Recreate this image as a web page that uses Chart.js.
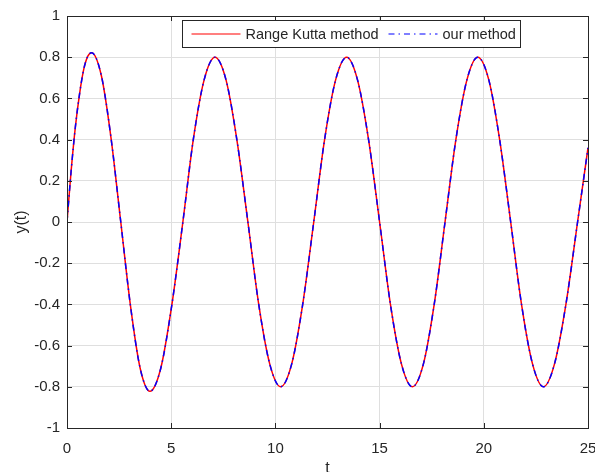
<!DOCTYPE html>
<html>
<head>
<meta charset="utf-8">
<script src="https://cdn.jsdelivr.net/npm/chart.js@4.4.1/dist/chart.umd.min.js"></script>
<style>
  html, body { margin: 0; padding: 0; background: #fff; }
  canvas { display: block; }
</style>
</head>
<body>
<canvas id="solutionChart" width="595" height="472"></canvas>
<script>
// values
const tValues = [0, 0.2, 0.4, 0.6, 0.8, 1.0, 1.18, 1.65, 2.11, 2.58, 3.05, 3.51, 3.98,
  4.50, 5.02, 5.56, 6.06, 6.58, 7.10, 7.63, 8.15, 8.68, 9.20, 9.73, 10.25,
  10.78, 11.31, 11.84, 12.36, 12.89, 13.42, 13.94, 14.47, 15.00, 15.52, 16.05, 16.57,
  17.10, 17.62, 18.14, 18.66, 19.19, 19.71, 20.24, 20.76, 21.29, 21.81, 22.34, 22.86,
  23.39, 23.94, 24.50, 25.00];

const rungeKutta = [0, 0.25, 0.46, 0.62, 0.74, 0.805, 0.822, 0.71, 0.41, 0, -0.41, -0.71, -0.822,
  -0.71, -0.41, 0, 0.40, 0.69, 0.80, 0.69, 0.40, 0, -0.40, -0.69, -0.80,
  -0.69, -0.40, 0, 0.40, 0.69, 0.80, 0.69, 0.40, 0, -0.40, -0.69, -0.80,
  -0.69, -0.40, 0, 0.40, 0.69, 0.80, 0.69, 0.40, 0, -0.40, -0.69, -0.80,
  -0.69, -0.40, 0, 0.36];

const ourMethod = [0, 0.25, 0.46, 0.62, 0.74, 0.805, 0.822, 0.71, 0.41, 0, -0.41, -0.71, -0.822,
  -0.71, -0.41, 0, 0.40, 0.69, 0.80, 0.69, 0.40, 0, -0.40, -0.69, -0.80,
  -0.69, -0.40, 0, 0.40, 0.69, 0.80, 0.69, 0.40, 0, -0.40, -0.69, -0.80,
  -0.69, -0.40, 0, 0.40, 0.69, 0.80, 0.69, 0.40, 0, -0.40, -0.69, -0.80,
  -0.69, -0.40, 0, 0.36];

const seriesNames = ['Range Kutta method', 'our method'];
const xTicks = [0, 5, 10, 15, 20, 25];
const yTicks = [-1, -0.8, -0.6, -0.4, -0.2, 0, 0.2, 0.4, 0.6, 0.8, 1];

const FONT = "'Liberation Sans', Arial, Helvetica, sans-serif";
const AXIS_COLOR = '#262626';
const GRID_COLOR = '#dfdfdf';
const BLUE_DASH = [6, 4, 1.5, 4];

const toPoints = (ys) => ys.map((y, i) => ({ x: tValues[i], y: y }));

// box round the axes, inward tick marks and the legend inside the plot
const matlabAxes = {
  id: 'matlabAxes',
  afterDraw(chart) {
    const { ctx, chartArea: a, scales } = chart;
    const tickLen = 5;
    ctx.save();
    ctx.strokeStyle = AXIS_COLOR;
    ctx.lineWidth = 1;
    ctx.beginPath();
    xTicks.forEach(v => {
      const px = Math.round(scales.x.getPixelForValue(v)) + 0.5;
      ctx.moveTo(px, a.bottom); ctx.lineTo(px, a.bottom - tickLen);
      ctx.moveTo(px, a.top); ctx.lineTo(px, a.top + tickLen);
    });
    yTicks.forEach(v => {
      const py = Math.round(scales.y.getPixelForValue(v)) + 0.5;
      ctx.moveTo(a.left, py); ctx.lineTo(a.left + tickLen, py);
      ctx.moveTo(a.right, py); ctx.lineTo(a.right - tickLen, py);
    });
    ctx.stroke();
    ctx.strokeRect(Math.round(a.left) + 0.5, Math.round(a.top) + 0.5,
      Math.round(a.right - a.left), Math.round(a.bottom - a.top));

    // legend
    ctx.font = '14.5px ' + FONT;
    const w1 = ctx.measureText(seriesNames[0]).width;
    const w2 = ctx.measureText(seriesNames[1]).width;
    const sample = 49;
    const boxL = Math.round(a.left + 115) + 0.5;
    const boxT = Math.round(a.top + 4) + 0.5;
    const boxW = Math.round(9 + sample + 5 + w1 + 10 + sample + 5 + w2 + 5);
    const boxH = 27;
    const midY = boxT + boxH / 2;
    ctx.fillStyle = '#fff';
    ctx.fillRect(boxL, boxT, boxW, boxH);
    ctx.strokeStyle = AXIS_COLOR;
    ctx.strokeRect(boxL, boxT, boxW, boxH);

    let x = boxL + 9;
    ctx.lineWidth = 1.2;
    ctx.strokeStyle = '#ff0000';
    ctx.beginPath(); ctx.moveTo(x, midY); ctx.lineTo(x + sample, midY); ctx.stroke();
    x += sample + 5;
    ctx.fillStyle = AXIS_COLOR;
    ctx.textBaseline = 'middle';
    ctx.fillText(seriesNames[0], x, midY + 0.5);
    x += w1 + 10;
    ctx.strokeStyle = '#0000ff';
    ctx.setLineDash(BLUE_DASH);
    ctx.beginPath(); ctx.moveTo(x, midY); ctx.lineTo(x + sample, midY); ctx.stroke();
    ctx.setLineDash([]);
    x += sample + 5;
    ctx.fillText(seriesNames[1], x, midY + 0.5);
    ctx.restore();
  }
};

new Chart(document.getElementById('solutionChart'), {
  type: 'line',
  data: {
    datasets: [
      {
        label: seriesNames[0],
        data: toPoints(rungeKutta),
        borderColor: '#ff0000',
        borderWidth: 1.5,
        pointRadius: 0,
        cubicInterpolationMode: 'monotone',
        order: 1
      },
      {
        label: seriesNames[1],
        data: toPoints(ourMethod),
        borderColor: '#0000ff',
        borderWidth: 1.5,
        borderDash: BLUE_DASH,
        pointRadius: 0,
        cubicInterpolationMode: 'monotone',
        order: 0
      }
    ]
  },
  options: {
    responsive: false,
    animation: false,
    devicePixelRatio: 1,
    layout: { padding: { top: 16, right: 7, left: 0, bottom: 0 } },
    plugins: {
      legend: { display: false },
      tooltip: { enabled: false }
    },
    scales: {
      x: {
        type: 'linear',
        min: 0,
        max: 25,
        afterBuildTicks: (s) => { s.ticks = xTicks.map(v => ({ value: v })); },
        afterFit: (s) => { s.height = 44; s.paddingLeft = 0; s.paddingRight = 0; },
        grid: { color: GRID_COLOR, drawTicks: false },
        border: { color: AXIS_COLOR },
        ticks: {
          color: AXIS_COLOR,
          font: { family: FONT, size: 15 },
          padding: 12,
          maxRotation: 0
        },
        title: {
          display: true,
          text: 't',
          color: AXIS_COLOR,
          font: { family: FONT, size: 16, lineHeight: 1 },
          padding: { top: 0, bottom: -5 }
        }
      },
      y: {
        min: -1,
        max: 1,
        afterBuildTicks: (s) => { s.ticks = yTicks.map(v => ({ value: v })); },
        afterFit: (s) => { s.width = 67; },
        grid: { color: GRID_COLOR, drawTicks: false },
        border: { color: AXIS_COLOR },
        ticks: {
          color: AXIS_COLOR,
          font: { family: FONT, size: 15 },
          padding: 7,
          callback: (v) => Number(v.toFixed(1)).toString()
        },
        title: {
          display: true,
          text: 'y(t)',
          color: AXIS_COLOR,
          font: { family: FONT, size: 16, lineHeight: 1 },
          padding: { top: 14, bottom: 0 }
        }
      }
    }
  },
  plugins: [matlabAxes]
});
</script>
</body>
</html>
